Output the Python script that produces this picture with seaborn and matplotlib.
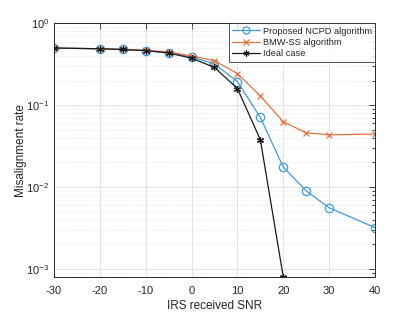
import matplotlib
matplotlib.use("Agg")
import matplotlib.pyplot as plt
import seaborn as sns
import pandas as pd
import numpy as np
from matplotlib.ticker import LogLocator, NullFormatter

snr = [-30, -20, -15, -10, -5, 0, 5, 10, 15, 20, 25, 30, 40]
ncpd = [0.50, 0.49, 0.48, 0.465, 0.44, 0.39, 0.32, 0.195, 0.071, 0.0176, 0.009, 0.0056, 0.0032]
bmw = [0.50, 0.49, 0.48, 0.468, 0.45, 0.40, 0.35, 0.244, 0.13, 0.063, 0.046, 0.0436, 0.0445]
snr_ideal = [-30, -20, -15, -10, -5, 0, 5, 10, 15, 20]
ideal = [0.50, 0.49, 0.48, 0.465, 0.435, 0.376, 0.29, 0.16, 0.038, 0.0008]
labels = ["Proposed NCPD algorithm", "BMW-SS algorithm", "Ideal case"]
xticks = [-30, -20, -10, 0, 10, 20, 30, 40]

sns.set_theme(style="white")
plt.rcParams['font.family'] = ['Liberation Sans', 'DejaVu Sans']
plt.rcParams['mathtext.fontset'] = 'custom'
plt.rcParams['mathtext.rm'] = 'Liberation Sans'

fig = plt.figure(figsize=(4.15, 3.12), dpi=100)
ax = fig.add_axes([0.130, 0.111, 0.7736, 0.814])

blue = "#3E9BDB"
orange = "#E5733D"
black = "#1a1a1a"

df1 = pd.DataFrame({"x": snr, "y": ncpd})
df2 = pd.DataFrame({"x": snr, "y": bmw})
df3 = pd.DataFrame({"x": snr_ideal, "y": ideal})

sns.lineplot(data=df1, x="x", y="y", ax=ax, color=blue, marker="o", markersize=6,
             markerfacecolor="none", markeredgecolor=blue, markeredgewidth=0.9,
             linewidth=0.9, label=labels[0])
sns.lineplot(data=df2, x="x", y="y", ax=ax, color=orange, marker="x", markersize=5,
             markeredgecolor=orange, markeredgewidth=0.9, linewidth=0.9, label=labels[1])
sns.lineplot(data=df3, x="x", y="y", ax=ax, color=black, marker=(6, 2, 0), markersize=5,
             markeredgecolor=black, markeredgewidth=0.9, linewidth=0.9, label=labels[2])

ax.set_yscale("log")
ax.set_xlim(-30, 40)
ax.set_ylim(7.9e-4, 1)
ax.set_xticks(xticks)
ax.set_xticklabels([str(t) for t in xticks])
ax.yaxis.set_major_locator(LogLocator(base=10, numticks=10))
ax.yaxis.set_minor_locator(LogLocator(base=10, subs=np.arange(2, 10), numticks=20))
ax.yaxis.set_minor_formatter(NullFormatter())

ax.grid(True, which="major", axis="both", color="#e3e3e3", linewidth=0.7, linestyle="-")
ax.grid(True, which="minor", axis="y", color="#dcdcdc", linewidth=0.6, linestyle=(0, (1, 2)))
ax.set_axisbelow(True)

for s in ax.spines.values():
    s.set_color("#262626")
    s.set_linewidth(0.7)
ax.tick_params(axis="both", which="both", direction="in", top=True, right=True,
               colors="#262626", labelsize=8, width=0.6)
ax.tick_params(axis="both", which="major", length=4)
ax.tick_params(axis="y", which="minor", length=2)
ax.tick_params(axis="x", which="major", pad=6)

ax.set_xlabel("IRS received SNR", fontsize=8.5, color="#262626", labelpad=3)
ax.set_ylabel("Misalignment rate", fontsize=8.5, color="#262626", labelpad=0)
ax.yaxis.set_label_coords(-0.085, 0.5)

leg = ax.legend(loc="upper right", fontsize=6.7, frameon=True, fancybox=False,
                edgecolor="#262626", borderpad=0.35, labelspacing=0.25, handlelength=3.0,
                handletextpad=0.3, borderaxespad=0.0, markerscale=0.85)
leg.get_frame().set_linewidth(0.7)

fig.savefig("out.png", dpi=100)
